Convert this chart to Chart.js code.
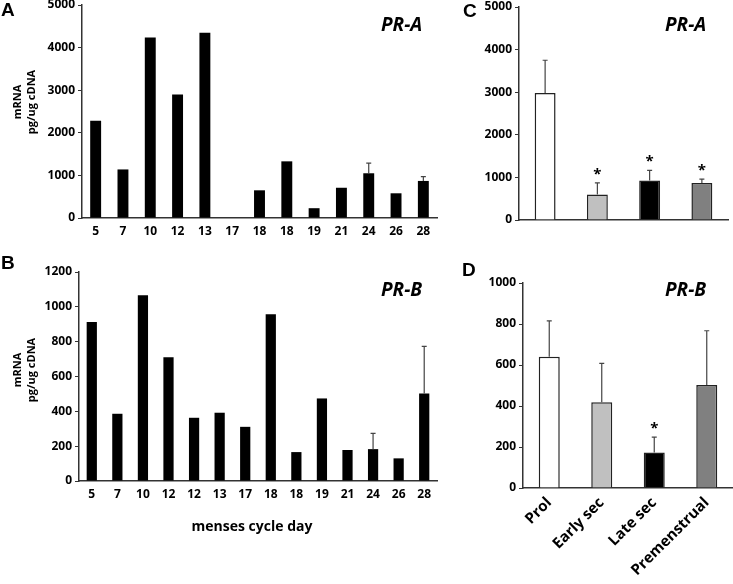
<!DOCTYPE html>
<html>
<head>
<meta charset="utf-8">
<script src="https://cdn.jsdelivr.net/npm/chart.js@4/dist/chart.umd.min.js"></script>
<style>
  html, body { margin: 0; padding: 0; background: #fff; }
  body { width: 733px; height: 584px; position: relative; overflow: hidden; font-family: "Open Sans", sans-serif; }
  canvas { position: absolute; }
  .t { position: absolute; white-space: nowrap; color: #000; }
  .letter { font-family: "Liberation Sans", Arial, sans-serif; font-weight: bold; font-size: 19px; line-height: 19px; }
  .pr { font-family: "Open Sans", sans-serif; font-weight: 700; font-style: italic; font-size: 19px; line-height: 20px; }
  .ytitle { font-family: "Open Sans", sans-serif; font-weight: 700; font-size: 11px; line-height: 14px; text-align: center; transform: translate(-50%, -50%) rotate(-90deg); }
  .xtitle { font-family: "Open Sans", sans-serif; font-weight: 700; font-size: 14px; line-height: 16px; transform: translate(-50%, -50%); }
</style>
</head>
<body>
<canvas id="cA" width="440" height="245" style="left:0;top:0"></canvas>
<canvas id="cB" width="440" height="268" style="left:0;top:240px"></canvas>
<canvas id="cC" width="293" height="245" style="left:440px;top:0"></canvas>
<canvas id="cD" width="293" height="344" style="left:440px;top:240px"></canvas>

<div class="t letter" style="left:1px;top:0px">A</div>
<div class="t letter" style="left:1px;top:253px">B</div>
<div class="t letter" style="left:463px;top:1px">C</div>
<div class="t letter" style="left:462px;top:260px">D</div>

<div class="t pr" style="left:381px;top:14px">PR-A</div>
<div class="t pr" style="left:381px;top:279px">PR-B</div>
<div class="t pr" style="left:665px;top:14px">PR-A</div>
<div class="t pr" style="left:665px;top:279px">PR-B</div>

<div class="t ytitle" style="left:24px;top:102px">mRNA<br>pg/ug cDNA</div>
<div class="t ytitle" style="left:24px;top:370px">mRNA<br>pg/ug cDNA</div>
<div class="t xtitle" style="left:252px;top:526px">menses cycle day</div>

<script>
// ---- data ----
const daysA = ['5','7','10','12','13','17','18','18','19','21','24','26','28'];
const prA_byDay = [2280, 1140, 4240, 2900, 4350, 0, 650, 1330, 230, 710, 1050, 580, 870];
const prA_byDayErr = [null, null, null, null, null, null, null, null, null, null, 240, null, 100];

const daysB = ['5','7','10','12','12','13','17','18','18','19','21','24','26','28'];
const prB_byDay = [913, 386, 1066, 711, 363, 392, 311, 957, 166, 474, 178, 183, 130, 503];
const prB_byDayErr = [null, null, null, null, null, null, null, null, null, null, null, 90, null, 270];

const phases = ['Prol', 'Early sec', 'Late sec', 'Premenstrual'];
const prA_phase = [2980, 600, 930, 870];
const prA_phaseErr = [770, 270, 235, 90];
const prA_phaseSig = ['', '*', '*', '*'];
const prB_phase = [640, 418, 173, 502];
const prB_phaseErr = [175, 190, 75, 265];
const prB_phaseSig = ['', '', '*', ''];
const phaseColors = ['#ffffff', '#c0c0c0', '#000000', '#808080'];

const FONT = '"Open Sans", sans-serif';

// ---- plugin: error bars + significance stars ----
const errStars = {
  id: 'errStars',
  afterDatasetsDraw(chart, args, opts) {
    const err = opts.err || [];
    const stars = opts.stars || [];
    const ds = chart.data.datasets[0].data;
    const meta = chart.getDatasetMeta(0);
    const ys = chart.scales.y;
    const ctx = chart.ctx;
    ctx.save();
    meta.data.forEach((bar, i) => {
      const e = err[i];
      let top = bar.y;
      if (e) {
        const yT = ys.getPixelForValue(ds[i] + e);
        ctx.strokeStyle = '#444';
        ctx.lineWidth = 1.2;
        ctx.beginPath();
        ctx.moveTo(bar.x, bar.y);
        ctx.lineTo(bar.x, yT);
        ctx.moveTo(bar.x - 2.5, yT);
        ctx.lineTo(bar.x + 2.5, yT);
        ctx.stroke();
        top = yT;
      }
      if (stars[i]) {
        ctx.fillStyle = '#000';
        ctx.font = '700 15px ' + FONT;
        ctx.textAlign = 'center';
        ctx.textBaseline = 'alphabetic';
        ctx.fillText(stars[i], bar.x, top - 4);
      }
    });
    ctx.restore();
  }
};

function makeChart(id, labels, values, colors, bordered, cfg) {
  return new Chart(document.getElementById(id), {
    type: 'bar',
    data: {
      labels: labels,
      datasets: [{
        data: values,
        backgroundColor: colors,
        borderColor: '#222',
        borderWidth: bordered ? 1.5 : 0,
        borderSkipped: 'start',
        barPercentage: 0.4,
        categoryPercentage: 1.0
      }]
    },
    options: {
      responsive: false,
      animation: false,
      events: [],
      layout: { padding: cfg.padding },
      plugins: {
        legend: { display: false },
        tooltip: { enabled: false },
        errStars: { err: cfg.err, stars: cfg.stars }
      },
      scales: {
        x: {
          offset: true,
          grid: { display: false, drawTicks: false },
          border: { display: true, color: '#333', width: 1.5 },
          ticks: {
            display: cfg.xticks,
            color: '#000',
            font: { family: FONT, weight: '700', size: cfg.xfont || 12 },
            padding: cfg.xpad || 6,
            autoSkip: false,
            minRotation: cfg.rot || 0,
            maxRotation: cfg.rot || 0
          },
          afterFit(s) { s.height = cfg.xh; s.paddingLeft = 0; s.paddingRight = 0; }
        },
        y: {
          min: 0,
          max: cfg.max,
          grid: { display: true, drawOnChartArea: false, drawTicks: true, tickLength: 4, color: '#333', lineWidth: 1 },
          border: { display: true, color: '#333', width: 1.5 },
          ticks: {
            stepSize: cfg.step,
            color: '#000',
            padding: 3,
            font: { family: FONT, weight: '700', size: 12 },
            callback: (v) => String(v)
          },
          afterFit(s) { s.width = cfg.yw; s.paddingTop = 0; s.paddingBottom = 0; }
        }
      }
    },
    plugins: [errStars]
  });
}

const black = (n) => Array(n).fill('#000000');

makeChart('cA', daysA, prA_byDay, black(daysA.length), false, {
  padding: { top: 5, right: 3, left: 0, bottom: 0 },
  err: prA_byDayErr, stars: [], xticks: true, xh: 27, yw: 82, max: 5000, step: 1000
});
makeChart('cB', daysB, prB_byDay, black(daysB.length), false, {
  padding: { top: 32, right: 3, left: 0, bottom: 0 },
  err: prB_byDayErr, stars: [], xticks: true, xh: 27, yw: 79, max: 1200, step: 200
});
makeChart('cC', phases, prA_phase, phaseColors, true, {
  padding: { top: 7, right: 5, left: 0, bottom: 0 },
  err: prA_phaseErr, stars: prA_phaseSig, xticks: false, xh: 25, yw: 79, max: 5000, step: 1000
});
makeChart('cD', phases, prB_phase, phaseColors, true, {
  padding: { top: 43, right: 0, left: 0, bottom: 0 },
  err: prB_phaseErr, stars: prB_phaseSig, xticks: true, xh: 96, yw: 83, max: 1000, step: 200,
  rot: 45, xfont: 15, xpad: 6
});
</script>
</body>
</html>
